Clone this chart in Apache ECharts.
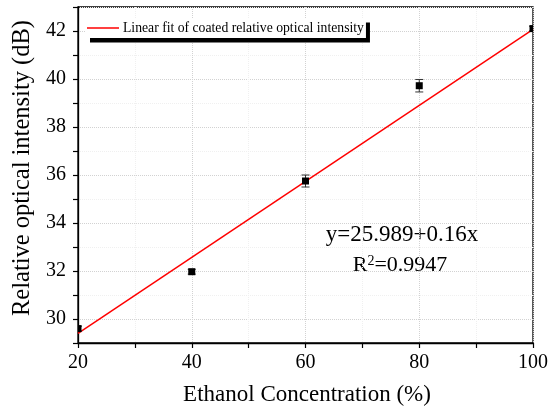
<!DOCTYPE html>
<html>
<head>
<meta charset="utf-8">
<script src="https://cdn.jsdelivr.net/npm/echarts@6/dist/echarts.min.js"></script>
<style>
  html, body { margin: 0; padding: 0; background: #fff; }
  #chart { width: 551px; height: 412px; }
</style>
</head>
<body>
<div id="chart"></div>
<script>
// Measured points (concentration %, intensity dB, error)
const concentration = [20, 40, 60, 80, 100];
const intensity = [29.6, 31.97, 35.75, 39.72, 42.1];
const errorBar = [0.1, 0.1, 0.25, 0.26, 0.1];

// Linear fit line as drawn
const fitX = [20, 100];
const fitY = [29.4, 42.07];

const fitName = 'Linear fit of coated relative optical intensity';
const serif = 'Liberation Serif, Times New Roman, serif';

let chart = echarts.init(document.getElementById('chart'));

let pointData = concentration.map((x, i) => [x, intensity[i], errorBar[i]]);
let fitData = fitX.map((x, i) => [x, fitY[i]]);

let option = {
    animation: false,
    grid: {
        left: 78, right: 15, top: 7, bottom: 69,
        show: true,
        borderColor: '#000',
        borderWidth: 1.3
    },
    legend: {
        data: [{ name: fitName, icon: 'rect' }],
        left: 86,
        top: 18,
        itemWidth: 32,
        itemHeight: 1.5,
        padding: [3, 2, 3, 1],
        backgroundColor: '#fff',
        shadowColor: '#000',
        shadowBlur: 0,
        shadowOffsetX: 4,
        shadowOffsetY: 4.5,
        textStyle: { fontFamily: serif, fontSize: 13.7, color: '#000', padding: [0, 0, 0, -1] }
    },
    xAxis: {
        type: 'value',
        min: 20, max: 100, interval: 10,
        axisLine: { lineStyle: { color: '#000', width: 1.3 } },
        axisTick: { length: 5, lineStyle: { color: '#000', width: 1.2 } },
        axisLabel: {
            margin: 10,
            fontFamily: serif, fontSize: 20, color: '#000',
            formatter: v => (v % 20 === 0 ? v : '')
        },
        splitLine: { show: true, lineStyle: { color: ['#d2d2d2', '#f0f0f0'], type: 'dotted', width: 1 } }
    },
    yAxis: {
        type: 'value',
        min: 29, max: 43, interval: 1,
        axisLine: { show: true, lineStyle: { color: '#000', width: 1.3 } },
        axisTick: { show: true, length: 5, lineStyle: { color: '#000', width: 1.2 } },
        axisLabel: {
            margin: 12,
            fontFamily: serif, fontSize: 20, color: '#000',
            formatter: v => (v % 2 === 0 ? v : '')
        },
        splitLine: { show: true, lineStyle: { color: ['#f0f0f0', '#d2d2d2'], type: 'dotted', width: 1 } }
    },
    series: [
        {
            name: fitName,
            type: 'line',
            data: fitData,
            symbol: 'none',
            color: '#ff0000',
            lineStyle: { color: '#ff0000', width: 1.5 },
            z: 3
        },
        {
            name: 'data',
            type: 'custom',
            clip: true,
            z: 4,
            data: pointData,
            renderItem: (params, api) => {
                let x = api.value(0), y = api.value(1), e = api.value(2);
                let p = api.coord([x, y]);
                let top = api.coord([x, y + e]);
                let bot = api.coord([x, y - e]);
                let cap = 4;
                let barStyle = { stroke: '#333', lineWidth: 1 };
                return {
                    type: 'group',
                    children: [
                        { type: 'line', shape: { x1: p[0], y1: top[1], x2: p[0], y2: bot[1] }, style: barStyle },
                        { type: 'line', shape: { x1: p[0] - cap, y1: top[1], x2: p[0] + cap, y2: top[1] }, style: barStyle },
                        { type: 'line', shape: { x1: p[0] - cap, y1: bot[1], x2: p[0] + cap, y2: bot[1] }, style: barStyle },
                        { type: 'rect', shape: { x: p[0] - 3.5, y: p[1] - 3.5, width: 7, height: 7 }, style: { fill: '#000' } }
                    ]
                };
            }
        }
    ],
    graphic: [
        {
            type: 'text', x: 23, y: 168, rotation: Math.PI / 2,
            style: {
                text: 'Relative optical intensity (dB)',
                fontFamily: serif, fontSize: 24.5, fill: '#000',
                align: 'center', verticalAlign: 'middle',
                textAlign: 'center', textVerticalAlign: 'middle'
            }
        },
        {
            type: 'text', x: 307, y: 395,
            style: {
                text: 'Ethanol Concentration (%)',
                fontFamily: serif, fontSize: 23, fill: '#000',
                align: 'center', verticalAlign: 'middle',
                textAlign: 'center', textVerticalAlign: 'middle'
            }
        },
        {
            type: 'text', x: 402, y: 235,
            style: {
                text: 'y=25.989+0.16x',
                fontFamily: serif, fontSize: 23, fill: '#000',
                align: 'center', verticalAlign: 'middle',
                textAlign: 'center', textVerticalAlign: 'middle'
            }
        },
        {
            type: 'text', x: 400, y: 265,
            style: {
                text: 'R{s|2}=0.9947',
                fontFamily: serif, fontSize: 22, fill: '#000',
                align: 'center', verticalAlign: 'middle',
                textAlign: 'center', textVerticalAlign: 'middle',
                rich: {
                    s: { fontFamily: serif, fontSize: 14, fill: '#000', verticalAlign: 'top', padding: [0, 0, 8, 0] }
                }
            }
        }
    ]
};

chart.setOption(option);
</script>
</body>
</html>
